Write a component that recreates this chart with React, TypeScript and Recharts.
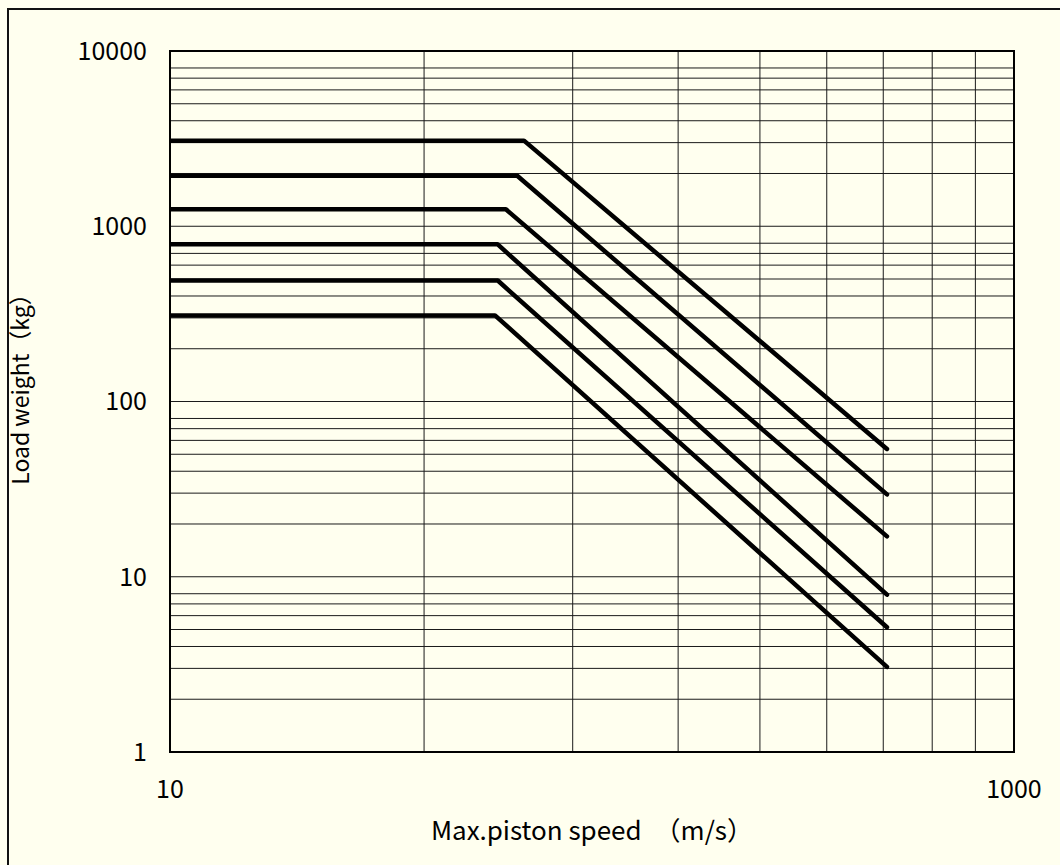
import { LineChart, Line, XAxis, YAxis, CartesianGrid, ReferenceArea } from "recharts";

// piston speed (m/s) where each curve leaves its flat allowance
const kneeSpeeds = [69, 66.5, 62.5, 59.7, 59.8, 58.9];
// flat allowable load (kg)
const flatLoads = [3080, 1940, 1250, 790, 490, 310];
// load at the right end of each curve (kg)
const endLoads = [53.6, 29.5, 17.0, 7.9, 5.15, 3.06];
const startSpeed = 10;
const endSpeed = 500;

const xGridTicks = [10, 40, 90, 160, 250, 360, 490, 640, 810, 1000];
const xLabelTicks = [10, 1000];
const yGridTicks = [
  1, 2, 3, 4, 5, 6, 7, 8, 9,
  10, 20, 30, 40, 50, 60, 70, 80, 90,
  100, 200, 300, 400, 500, 600, 700, 800, 900,
  1000, 2000, 3000, 4000, 5000, 6000, 7000, 8000, 9000,
  10000,
];
const yLabelTicks = [1, 10, 100, 1000, 10000];

const curves = kneeSpeeds.map((k, i) => [
  { x: startSpeed, y: flatLoads[i] },
  { x: k, y: flatLoads[i] },
  { x: endSpeed, y: endLoads[i] },
]);

const FONT = "'Noto Sans CJK JP', 'Noto Sans', sans-serif";
const BG = "#FFFFEF";

// y axis title, rotated and centred on the plot height
function YTitle(props: { viewBox?: { x: number; y: number; width: number; height: number } }) {
  const vb = props.viewBox || { x: 0, y: 0, width: 0, height: 0 };
  const cx = 19;
  const cy = vb.y + vb.height / 2 - 18;
  return (
    <text x={cx} y={cy} transform={`rotate(-90, ${cx}, ${cy})`} textAnchor="middle" dominantBaseline="central"
      fontSize={23} fill="#000" fontFamily={FONT}>
      Load weight（kg）
    </text>
  );
}

export default function App() {
  return (
    <div style={{ position: "absolute", left: 0, top: 0, width: 1060, height: 865, background: BG, overflow: "hidden" }}>
      {/* outer frame, only left and top edges are visible */}
      <div style={{ position: "absolute", left: 7, top: 8, width: 1100, height: 900, borderLeft: "2px solid #111", borderTop: "2px solid #111" }} />
      <div style={{ position: "absolute", left: 0, top: 0 }}>
        <LineChart width={1060} height={865} margin={{ top: 51, right: 46, bottom: 53, left: 20 }}>
          <CartesianGrid stroke="#1a1a1a" strokeWidth={1} horizontalValues={yGridTicks} verticalValues={xGridTicks} />
          <XAxis
            type="number"
            dataKey="x"
            scale="log"
            domain={[10, 1000]}
            ticks={xGridTicks}
            allowDataOverflow
            height={60}
            axisLine={false}
            tickLine={false}
            tickSize={0}
            tickMargin={28}
            tick={{ fontSize: 25, fill: "#000", fontFamily: FONT }}
            tickFormatter={(v: number) => (xLabelTicks.includes(v) ? String(v) : "")}
            label={{ value: "Max.piston speed　（m/s）", position: "insideBottom", offset: -28, fontSize: 26, fill: "#000", fontFamily: FONT }}
          />
          <YAxis
            type="number"
            dataKey="y"
            scale="log"
            domain={[1, 10000]}
            ticks={yGridTicks}
            allowDataOverflow
            width={150}
            axisLine={false}
            tickLine={false}
            tickSize={0}
            tickMargin={23}
            tick={{ fontSize: 25, fill: "#000", fontFamily: FONT }}
            tickFormatter={(v: number) => (yLabelTicks.includes(v) ? String(v) : "")}
            label={<YTitle />}
          />
          <ReferenceArea x1={10} x2={1000} y1={1} y2={10000} fill="none" stroke="#000" strokeWidth={2} ifOverflow="visible" />
          {curves.map((c, i) => (
            <Line
              key={i}
              data={c}
              dataKey="y"
              type="linear"
              stroke="#000"
              strokeWidth={4.5}
              strokeLinecap="round"
              strokeLinejoin="round"
              dot={false}
              activeDot={false}
              isAnimationActive={false}
            />
          ))}
        </LineChart>
      </div>
    </div>
  );
}
